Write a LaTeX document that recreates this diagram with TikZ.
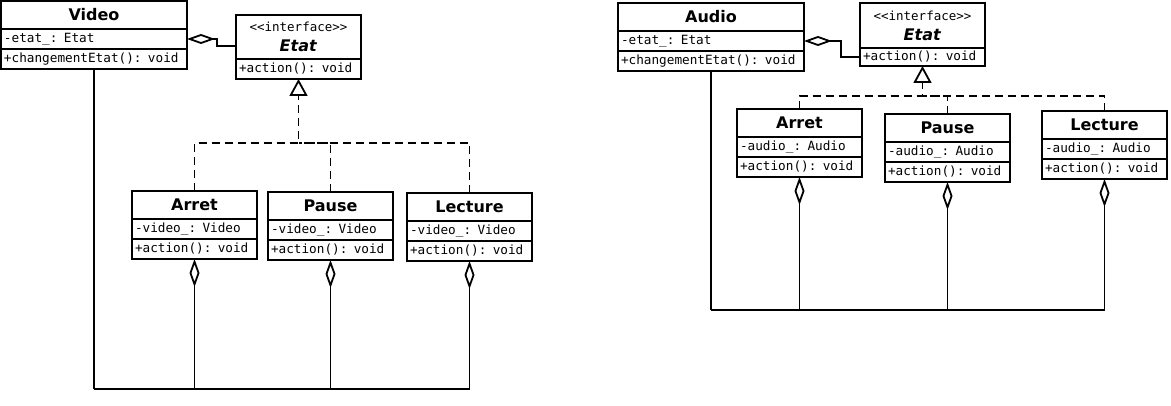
\documentclass[tikz,border=0pt]{standalone}
\usepackage{fontspec}
\setmainfont{DejaVu Sans}
\setmonofont{DejaVu Sans Mono}
\usepackage{tikz}
\usetikzlibrary{shapes,arrows.meta,positioning,calc}

\tikzset{
  classhead/.style={draw, line width=2pt, outer sep=0pt, inner xsep=3pt, inner ysep=0pt,
    anchor=north west, minimum height=28pt, align=center, font=\bfseries\fontsize{16}{18}\selectfont},
  classrow/.style={draw, line width=2pt, outer sep=0pt, inner xsep=3pt, inner ysep=0pt,
    anchor=north west, minimum height=20pt, align=left, font=\ttfamily\fontsize{12.7}{15}\selectfont},
  wide/.style={text width=180pt},
  narrow/.style={text width=119pt},
  aggreg/.style={line width=1.8pt, {Diamond[open,length=28pt,width=10pt]}-},
  realize/.style={line width=1.8pt, dash pattern=on 8pt off 5pt, -{Triangle[open,length=17pt,width=18pt]}},
  dashline/.style={line width=1.8pt, dash pattern=on 8pt off 5pt},
  stem/.style={line width=2.4pt}
}

\newcommand{\umlclass}[6]{%
  \node[classhead, #1] (#2) at #3 {#4};
  \node[classrow, #1] (#2-a) at (#2.south west) {#5};
  \node[classrow, #1] (#2-m) at (#2-a.south west) {#6};
}

\begin{document}
\begin{tikzpicture}[x=1pt, y=-1pt]
    \useasboundingbox (0,0) rectangle (1171,406);

    % video
    \umlclass{wide}{Video}{(1,1)}{Video}{-etat\_: Etat}{+changementEtat(): void}
    \node[classhead, narrow, minimum height=44pt] (EtatV) at (236,15)
      {{\mdseries\ttfamily\fontsize{12.5}{14}\selectfont \textless\textless interface\textgreater\textgreater}\\[2pt]\textit{Etat}};
    \node[classrow, narrow] (EtatV-m) at (EtatV.south west) {+action(): void};
    \umlclass{narrow}{ArretV}{(132,191)}{Arret}{-video\_: Video}{+action(): void}
    \umlclass{narrow}{PauseV}{(268,192)}{Pause}{-video\_: Video}{+action(): void}
    \umlclass{narrow}{LectureV}{(407,193)}{Lecture}{-video\_: Video}{+action(): void}

    \draw[aggreg] (Video-a.east) -- ++(30,0) |- ([yshift=-9pt]EtatV.west);
    \coordinate (HubV) at (EtatV-m.south |- 0,143);
    \draw[realize] (ArretV.north) |- (HubV) -- (EtatV-m.south);
    \draw[dashline] (PauseV.north) |- (HubV);
    \draw[dashline] (LectureV.north) |- (HubV);
    \coordinate (BusV) at (Video-m.south |- 0,389);
    \draw[stem] (Video-m.south) -- (BusV);
    \foreach \c in {ArretV,PauseV,LectureV}
      \draw[aggreg] (\c-m.south) |- (BusV);

    % audio
    \umlclass{wide}{Audio}{(618,3)}{Audio}{-etat\_: Etat}{+changementEtat(): void}
    \node[classhead, narrow, minimum height=45pt] (EtatA) at (860,3)
      {{\mdseries\ttfamily\fontsize{12.5}{14}\selectfont \textless\textless interface\textgreater\textgreater}\\[2pt]\textit{Etat}};
    \node[classrow, narrow, minimum height=18pt] (EtatA-m) at (EtatA.south west) {+action(): void};
    \umlclass{narrow}{ArretA}{(737,109)}{Arret}{-audio\_: Audio}{+action(): void}
    \umlclass{narrow}{PauseA}{(885,114)}{Pause}{-audio\_: Audio}{+action(): void}
    \umlclass{narrow}{LectureA}{(1042,111)}{Lecture}{-audio\_: Audio}{+action(): void}

    \draw[aggreg] (Audio-a.east) -- ++(37,0) |- (EtatA-m.west);
    \coordinate (HubA) at (EtatA-m.south |- 0,96);
    \draw[realize] (ArretA.north) |- (HubA) -- (EtatA-m.south);
    \draw[dashline] (PauseA.north) |- (HubA);
    \draw[dashline] (LectureA.north) |- (HubA);
    \coordinate (BusA) at (Audio-m.south |- 0,310);
    \draw[stem] (Audio-m.south) -- (BusA);
    \foreach \c in {ArretA,PauseA,LectureA}
      \draw[aggreg] (\c-m.south) |- (BusA);
\end{tikzpicture}
\end{document}
